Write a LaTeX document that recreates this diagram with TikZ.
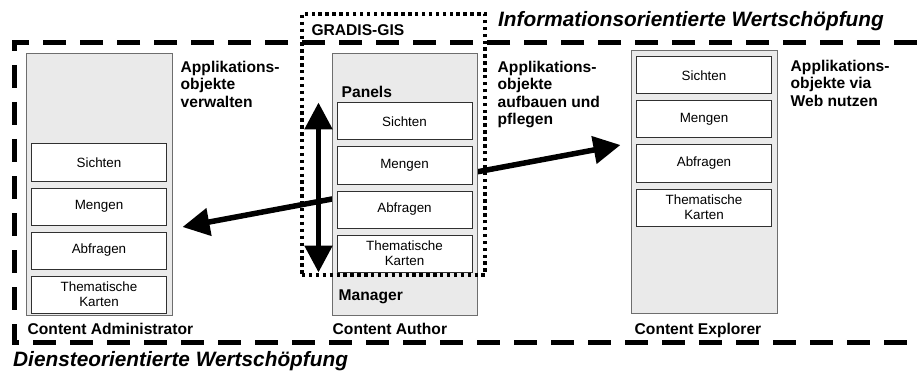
\documentclass[tikz,border=0pt]{standalone}
\usepackage{fontspec}
\setmainfont{Liberation Sans}
\usepackage{tikz}
\usetikzlibrary{arrows.meta,positioning}
\definecolor{xgray}{HTML}{6E6E6E}
\definecolor{xlight}{HTML}{EAEAEA}
\definecolor{xdark}{HTML}{303030}

\begin{document}
\begin{tikzpicture}[
    x=1pt, y=-1pt,
    node distance=6pt,
    column/.style={rectangle, draw=xgray, fill=xlight, line width=1pt, minimum width=145pt, minimum height=261pt, inner sep=0pt},
    item/.style={rectangle, draw=xdark, fill=white, line width=1pt, minimum width=135pt, minimum height=37pt, inner sep=0pt, align=center, font=\fontsize{13.4}{15}\selectfont},
    tag/.style={inner sep=0pt, align=left, font=\fontsize{15.6}{17.6}\selectfont\bfseries},
    headline/.style={inner sep=0pt, font=\fontsize{20.8}{24}\selectfont\bfseries\itshape},
    dienstframe/.style={line width=5pt, dash pattern=on 23pt off 14pt},
    gis/.style={draw, line width=3.4pt, dash pattern=on 3.4pt off 3.5pt, inner sep=0pt},
    link/.style={line width=5.5pt, {Triangle[length=27pt,width=27pt]}-{Triangle[length=27pt,width=27pt]}},
]

\useasboundingbox (0,0) rectangle (917,374);

% --- Service frame (open to the right) ---
\draw[dienstframe] (917,43) -- (14,43) -- (14,342) -- (917,342);

% --- Outer columns ---
\node[column, minimum width=146pt] (admin) at (99,184.5) {};
\node[column, minimum width=146pt, minimum height=262pt] (explorer) at (704,182) {};

% --- Exchange arrow (runs behind the author column) ---
\draw[link] ([shift={(10,42.5)}]admin.east) -- ([shift={(-10,-37)}]explorer.west);

% --- Author column ---
\node[column] (author) at (404.5,184.5) {};

% --- Content Administrator ---
\node[item, below=90pt of admin.north] (sichten1) {Sichten};
\node[item, below=of sichten1] (mengen1) {Mengen};
\node[item, below=of mengen1] (abfragen1) {Abfragen};
\node[item, below=of abfragen1] (karten1) {Thematische\\Karten};

% --- Content Author ---
\node[item, below=49pt of author.north] (sichten2) {Sichten};
\node[item, below=of sichten2] (mengen2) {Mengen};
\node[item, below=of mengen2] (abfragen2) {Abfragen};
\node[item, below=of abfragen2] (karten2) {Thematische\\Karten};
\node[tag, above=5pt of sichten2.north west, anchor=south west, xshift=5pt] (panels) {Panels};
\node[tag, below=17pt of karten2.south west, anchor=north west, xshift=2pt] (manager) {Manager};

% --- Content Explorer ---
\node[item, below=6pt of explorer.north] (sichten3) {Sichten};
\node[item, below=of sichten3] (mengen3) {Mengen};
\node[item, below=of mengen3] (abfragen3) {Abfragen};
\node[item, below=of abfragen3] (karten3) {Thematische\\Karten};

% --- Column captions ---
\node[tag, below=7pt of admin.south west, anchor=north west, xshift=2pt] (admincap) {Content Administrator};
\node[tag, below=7pt of author.south west, anchor=north west, xshift=1pt] (authorcap) {Content Author};
\node[tag, below=9pt of explorer.south west, anchor=north west, xshift=4pt] (explorercap) {Content Explorer};

% --- Role descriptions ---
\node[tag, right=8pt of admin.north east, anchor=north west, yshift=-7pt] (verwalten) {Applikations-\\objekte\\verwalten};
\node[tag, right=20pt of author.north east, anchor=north west, yshift=-7pt] (pflegen) {Applikations-\\objekte\\aufbauen und\\pflegen};
\node[tag, right=13pt of explorer.north east, anchor=north west, yshift=-9pt] (nutzen) {Applikations-\\objekte via\\Web nutzen};

% --- GRADIS-GIS frame ---
\node[gis, minimum width=183pt, minimum height=261pt] (gradis) at (393.5,144.5) {};
\node[tag, below right=12pt and 11pt of gradis.north west] (gradiscap) {GRADIS-GIS};

% --- Panels <-> Manager ---
\draw[link] ([xshift=-13pt]author.west |- sichten2.north) -- ([xshift=-13pt]author.west |- karten2.south);

% --- Headlines ---
\node[headline, anchor=base west] (infotitle) at (498,27) {Informationsorientierte Wertschöpfung};
\node[headline, anchor=base west] (diensttitle) at (13,366.5) {Diensteorientierte Wertschöpfung};

\end{tikzpicture}
\end{document}
